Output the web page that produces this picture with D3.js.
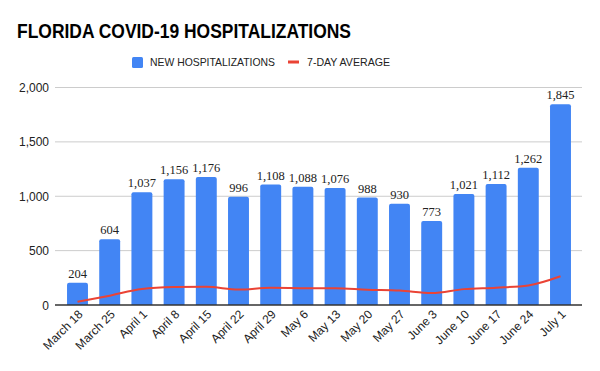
<!DOCTYPE html>
<html>
<head>
<meta charset="utf-8">
<script src="https://cdnjs.cloudflare.com/ajax/libs/d3/7.8.5/d3.min.js"></script>
<style>
  body { margin: 0; background: #fff; }
  svg { font-family: Arial, "Liberation Sans", sans-serif; }
</style>
</head>
<body>
<div id="chart"></div>
<script>
var dates = ['March 18', 'March 25', 'April 1', 'April 8', 'April 15', 'April 22', 'April 29', 'May 6',
  'May 13', 'May 20', 'May 27', 'June 3', 'June 10', 'June 17', 'June 24', 'July 1'];
var newHosp = [204, 604, 1037, 1156, 1176, 996, 1108, 1088, 1076, 988, 930, 773, 1021, 1112, 1262, 1845];
var avg7 = [29, 86, 148, 165, 168, 142, 158, 155, 154, 141, 133, 110, 146, 159, 180, 264];
var yTicks = [0, 500, 1000, 1500, 2000];

var W = 600, H = 371;
var plot = { left: 55, right: 582, top: 87.5, bottom: 305 };

var svg = d3.select('#chart').append('svg')
  .attr('width', W).attr('height', H);

svg.append('text')
  .attr('x', 17).attr('y', 37.5)
  .attr('font-size', 20).attr('font-weight', 'bold').attr('fill', '#000')
  .attr('textLength', 334).attr('lengthAdjust', 'spacingAndGlyphs')
  .text('FLORIDA COVID-19 HOSPITALIZATIONS');

// legend
var lg = svg.append('g');
lg.append('rect').attr('x', 132).attr('y', 57).attr('width', 11).attr('height', 11).attr('rx', 1.5).attr('fill', '#4285F4');
lg.append('text').attr('x', 150).attr('y', 66).attr('font-size', 11.5).attr('fill', '#222')
  .attr('textLength', 125).attr('lengthAdjust', 'spacingAndGlyphs').text('NEW HOSPITALIZATIONS');
lg.append('rect').attr('x', 288).attr('y', 60.5).attr('width', 11).attr('height', 3).attr('fill', '#EA4335');
lg.append('text').attr('x', 307).attr('y', 66).attr('font-size', 11.5).attr('fill', '#222')
  .attr('textLength', 83).attr('lengthAdjust', 'spacingAndGlyphs').text('7-DAY AVERAGE');

var x = d3.scaleBand().domain(dates).range([61.4, 576.6]).paddingInner(0.35).paddingOuter(0.175);
var y = d3.scaleLinear().domain([0, 2000]).range([plot.bottom, plot.top]);

// gridlines
svg.append('g').selectAll('line').data(yTicks.filter(function (d) { return d > 0; })).enter()
  .append('line')
  .attr('x1', plot.left).attr('x2', plot.right)
  .attr('y1', function (d) { return y(d); }).attr('y2', function (d) { return y(d); })
  .attr('stroke', '#cccccc').attr('stroke-width', 1);

// y labels
svg.append('g').selectAll('text').data(yTicks).enter()
  .append('text')
  .attr('x', 49).attr('y', function (d) { return y(d) + 4.5; })
  .attr('text-anchor', 'end').attr('font-size', 12).attr('fill', '#222')
  .text(function (d) { return d3.format(',')(d); });

// bars
svg.append('g').selectAll('path').data(newHosp).enter()
  .append('path')
  .attr('fill', '#4285F4')
  .attr('d', function (d, i) {
    var x0 = x(dates[i]), w = x.bandwidth(), y0 = y(d), y1 = y(0), r = 2;
    return 'M' + x0 + ',' + y1 + 'V' + (y0 + r) + 'Q' + x0 + ',' + y0 + ' ' + (x0 + r) + ',' + y0 +
      'H' + (x0 + w - r) + 'Q' + (x0 + w) + ',' + y0 + ' ' + (x0 + w) + ',' + (y0 + r) + 'V' + y1 + 'Z';
  });

// data labels
svg.append('g').selectAll('text').data(newHosp).enter()
  .append('text')
  .attr('x', function (d, i) { return x(dates[i]) + x.bandwidth() / 2; })
  .attr('y', function (d) { return y(d) - 5; })
  .attr('text-anchor', 'middle')
  .attr('font-family', '"Liberation Serif", "Times New Roman", serif')
  .attr('font-size', 12.5).attr('fill', '#222')
  .text(function (d) { return d3.format(',')(d); });

// baseline
svg.append('line')
  .attr('x1', plot.left).attr('x2', plot.right)
  .attr('y1', y(0)).attr('y2', y(0))
  .attr('stroke', '#333').attr('stroke-width', 1.3);

// 7-day average line
var line = d3.line()
  .x(function (d, i) { return x(dates[i]) + x.bandwidth() / 2; })
  .y(function (d) { return y(d); })
  .curve(d3.curveMonotoneX);
svg.append('path').datum(avg7)
  .attr('d', line)
  .attr('fill', 'none').attr('stroke', '#EA4335').attr('stroke-width', 2);

// x labels
svg.append('g').selectAll('text').data(dates).enter()
  .append('text')
  .attr('transform', function (d) {
    return 'translate(' + (x(d) + x.bandwidth() / 2 + 6) + ',' + (plot.bottom + 10) + ') rotate(-45)';
  })
  .attr('text-anchor', 'end').attr('font-size', 12).attr('fill', '#222')
  .text(function (d) { return d; });
</script>
</body>
</html>
